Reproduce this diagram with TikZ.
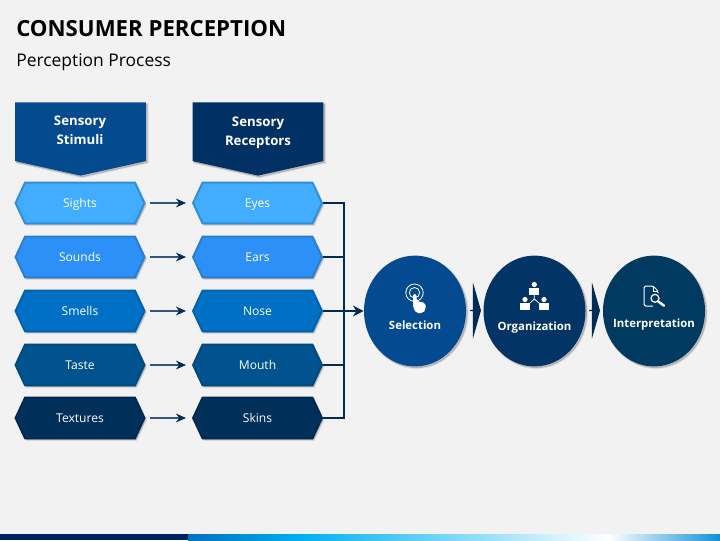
\documentclass[tikz,border=0pt]{standalone}
\usepackage{fontspec}
\setmainfont{Open Sans}
\usepackage{xcolor}
\usetikzlibrary{shapes.geometric, shapes.symbols, shapes.arrows, arrows.meta}
\definecolor{pagegrey}{HTML}{f2f2f2}
\definecolor{inkdark}{HTML}{002b55}
\definecolor{linegrey}{HTML}{34567a}
\definecolor{stimhead}{HTML}{044a8f}
\definecolor{recphead}{HTML}{003064}
\definecolor{selblue}{HTML}{044a90}
\definecolor{orgblue}{HTML}{023566}
\definecolor{intblue}{HTML}{013a60}
\definecolor{sightfill}{HTML}{42adff}
\definecolor{sightline}{HTML}{2f8fdb}
\definecolor{soundfill}{HTML}{2c90f8}
\definecolor{soundline}{HTML}{2a7ece}
\definecolor{smellfill}{HTML}{0070c5}
\definecolor{smellline}{HTML}{0062ae}
\definecolor{tastefill}{HTML}{00538f}
\definecolor{tasteline}{HTML}{004a80}
\definecolor{texturefill}{HTML}{003059}
\definecolor{textureline}{HTML}{002a50}
\definecolor{bandnavy}{HTML}{002060}
\definecolor{bandblue}{HTML}{0070c0}
\definecolor{bandcyan}{HTML}{00b0f0}
\definecolor{bandend}{HTML}{1090d8}
\tikzset{
  softshadow/.style={preaction={fill=black, draw=black, line width=0.5mm, opacity=0.07,
                                transform canvas={xshift=0.4mm, yshift=-0.4mm}},
                     preaction={fill=black, opacity=0.15,
                                transform canvas={xshift=0.4mm, yshift=-0.4mm}}},
  hexbox/.style={signal, signal to=west and east, signal pointer angle=130,
                 line width=0.5mm, minimum width=3.22cm, minimum height=1.02cm,
                 inner sep=0, align=center, text=white, text height=1.5ex, text depth=0.4ex,
                 font=\fontsize{8.6}{10}\selectfont, softshadow},
  sightbox/.style={hexbox, draw=sightline, fill=sightfill},
  soundbox/.style={hexbox, draw=soundline, fill=soundfill},
  smellbox/.style={hexbox, draw=smellline, fill=smellfill},
  tastebox/.style={hexbox, draw=tasteline, fill=tastefill},
  texturebox/.style={hexbox, draw=textureline, fill=texturefill},
  headbox/.style={signal, signal to=south, signal from=nowhere, signal pointer angle=155,
                  minimum width=3.27cm, minimum height=1.47cm, inner sep=0, softshadow},
  headlabel/.style={align=center, inner sep=0, text=white,
                    font=\fontsize{9.4}{13.5}\selectfont\bfseries},
  stagenode/.style={ellipse, minimum width=2.55cm, minimum height=2.77cm, inner sep=0, softshadow},
  stagelabel/.style={text=white, inner sep=0, font=\fontsize{8.1}{10}\selectfont\bfseries},
  link/.style={-{Stealth[length=2.5mm,width=2.2mm,color=inkdark]}, line width=0.5mm, draw=linegrey,
               shorten <=0.1cm, shorten >=0.15cm},
  busline/.style={line width=0.45mm, draw=inkdark},
  buslink/.style={-{Stealth[length=2.7mm,width=2.7mm]}, line width=0.55mm, draw=inkdark},
  stagearrow/.style={single arrow, fill=inkdark, inner sep=0, minimum height=0.27cm,
                     minimum width=1.4cm, single arrow head extend=0.35cm,
                     single arrow tip angle=148},
  iconline/.style={draw=white, line width=0.2mm},
  orgperson/.pic={
    \fill[white] (0,0) circle (2.6);
    \fill[white] (-5,3.5) rectangle (5,10);
  },
}
\begin{document}
\begin{tikzpicture}[x=0.025cm, y=-0.025cm]

  % --- Page background ---
  \fill[pagegrey] (0,0) rectangle (720,540);
  \useasboundingbox (0,0) rectangle (720,540);

  % --- Bottom band ---
  \fill[bandnavy] (0,534) rectangle (188,540);
  \shade[left color=bandblue, right color=bandcyan] (188,534) rectangle (300,540);
  \shade[left color=bandcyan, right color=white] (300,534) rectangle (608,540);
  \shade[left color=white, right color=bandend] (608,534) rectangle (720,540);

  % --- Titles ---
  \node[anchor=west, inner sep=0, font=\fontsize{15.8}{20}\selectfont\bfseries] (title) at (16,29)
       {CONSUMER PERCEPTION};
  \node[anchor=west, inner sep=0, font=\fontsize{12.4}{15}\selectfont] (subtitle) at (16,62)
       {Perception Process};

  % --- Column heads ---
  \node[headbox, fill=stimhead, anchor=north] (stimuli) at (80.5,102) {};
  \node[headbox, fill=recphead, anchor=north] (receptors) at (258,102) {};
  \node[headlabel] (stimlabel) at (80,130) {Sensory\\Stimuli};
  \node[headlabel] (recplabel) at (258,133) {Sensory\\Receptors};

  % --- Stimuli ---
  \node[sightbox] (sights) at (80,203) {Sights};
  \node[soundbox] (sounds) at (80,257) {Sounds};
  \node[smellbox] (smells) at (80,311) {Smells};
  \node[tastebox] (taste) at (80,365) {Taste};
  \node[texturebox] (textures) at (80,418) {Textures};

  % --- Receptors ---
  \node[sightbox] (eyes) at (257.5,203) {Eyes};
  \node[soundbox] (ears) at (257.5,257) {Ears};
  \node[smellbox] (nose) at (257.5,311) {Nose};
  \node[tastebox] (mouth) at (257.5,365) {Mouth};
  \node[texturebox] (skins) at (257.5,418) {Skins};

  % --- Stimuli to receptors ---
  \draw[link] (sights.east) -- (eyes.west);
  \draw[link] (sounds.east) -- (ears.west);
  \draw[link] (smells.east) -- (nose.west);
  \draw[link] (taste.east) -- (mouth.west);
  \draw[link] (textures.east) -- (skins.west);

  % --- Stages ---
  \node[stagenode, fill=selblue] (selection) at (415,311) {};
  \node[stagenode, fill=orgblue] (organization) at (534.5,311) {};
  \node[stagenode, fill=intblue] (interpretation) at (654,311) {};
  \node[stagelabel] (sellabel) at (415,325) {Selection};
  \node[stagelabel] (orglabel) at (534.5,328) {Organization};
  \node[stagelabel] (intlabel) at (654,325) {Interpretation};

  % --- Bus from receptors to selection ---
  \coordinate (bus) at (344,311);
  \draw[busline] (eyes.east) -| (bus);
  \draw[busline] (ears.east) -| (bus);
  \draw[busline] (mouth.east) -| (bus);
  \draw[busline] (skins.east) -| (bus);
  \draw[buslink] (nose.east) -- (selection.west);

  % --- Arrows between stages ---
  \node[stagearrow] (arrowa) at (475.5,310.5) {};
  \node[stagearrow] (arrowb) at (594.5,310.5) {};

  % --- Selection icon ---
  \draw[iconline] (414.5,292.7) circle (8.7);
  \draw[iconline] (414.5,292.7) circle (5.2);
  \fill[white, rounded corners=0.5mm] (413,294) -- (416.5,294) -- (416.5,301) -- (425.5,303)
       -- (425.5,310) -- (423,313) -- (416,313) -- (413,307) -- cycle;

  % --- Organization icon ---
  \pic at (534.3,284.5) {orgperson};
  \pic at (525,299.5) {orgperson};
  \pic at (544,299.5) {orgperson};
  \draw[iconline] (534.3,294.5) -- (534.3,299) -- (530,303);
  \draw[iconline] (534.3,299) -- (539,303);

  % --- Interpretation icon ---
  \draw[iconline, line width=0.25mm, rounded corners=0.4mm] (653,306) -- (644,306) -- (644,286)
       -- (653,286) -- (658,291) -- (658,293);
  \draw[iconline] (653,286) -- (653,291) -- (658,291);
  \draw[iconline, line width=0.3mm] (655,298.3) circle (4);
  \draw[white, line width=0.6mm, line cap=round] (658,301.3) -- (664,305.7);

\end{tikzpicture}
\end{document}
